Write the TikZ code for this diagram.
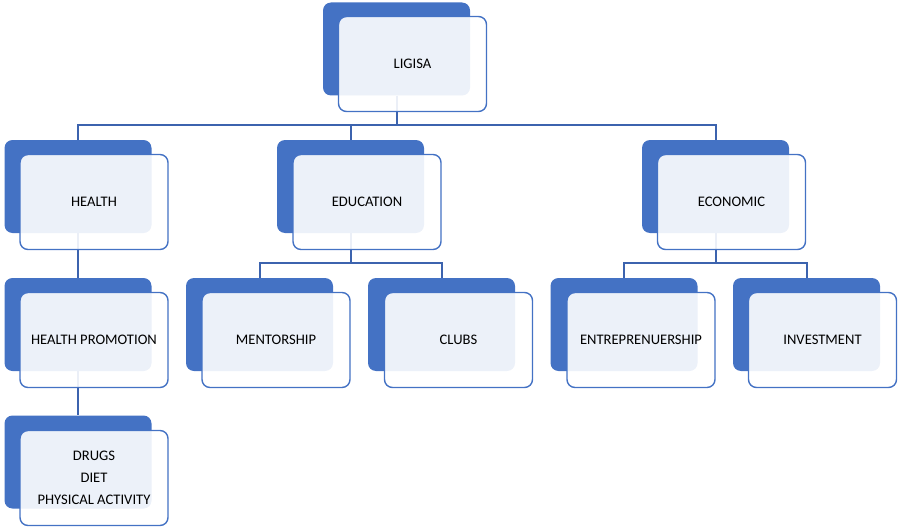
\documentclass[tikz,border=0pt]{standalone}
\usepackage{fontspec}
\setmainfont{Carlito}
\definecolor{obl}{HTML}{4472C4}
\definecolor{lnk}{HTML}{3C63AE}
\begin{document}
\begin{tikzpicture}[x=1pt,y=-1pt,
  back/.style={rounded corners=8pt,fill=obl,draw=none,minimum width=147pt,minimum height=93pt,inner sep=0pt},
  front/.style={rounded corners=8pt,draw=obl,line width=1.4pt,fill=white,fill opacity=0.9,text opacity=1,
    minimum width=148pt,minimum height=95pt,inner sep=0pt,align=center,
    font=\fontsize{14.6}{22}\selectfont},
  link/.style={draw=lnk,line width=2pt}]
\useasboundingbox (0,0) rectangle (900,527);
% back boxes
\node[back] (lB) at (396.5,49) {};
\node[back] (hB) at (78,186.5) {};
\node[back] (edB) at (350.5,186.5) {};
\node[back] (ecB) at (715.5,186.5) {};
\node[back] (hpB) at (78,324.5) {};
\node[back] (mB) at (259.5,324.5) {};
\node[back] (cB) at (441.5,324.5) {};
\node[back] (enB) at (624,324.5) {};
\node[back] (iB) at (806.5,324.5) {};
\node[back] (dB) at (78,462) {};
% connectors
\draw[link] (lB.south) -- ++(0,29.5) -| (hB.north);
\draw[link] (lB.south) -- ++(0,29.5) -| (edB.north);
\draw[link] (lB.south) -- ++(0,29.5) -| (ecB.north);
\draw[link] (hB.south) -- (hpB.north);
\draw[link] (hpB.south) -- (dB.north);
\draw[link] (edB.south) -- ++(0,30) -| (mB.north);
\draw[link] (edB.south) -- ++(0,30) -| (cB.north);
\draw[link] (ecB.south) -- ++(0,30) -| (enB.north);
\draw[link] (ecB.south) -- ++(0,30) -| (iB.north);
% front boxes
\node[front] (l) at (412.5,64) {LIGISA};
\node[front] (h) at (94,202) {HEALTH};
\node[front] (ed) at (367,202) {EDUCATION};
\node[front] (ec) at (731.5,202) {ECONOMIC};
\node[front] (hp) at (94,340) {HEALTH PROMOTION};
\node[front] (m) at (276,340) {MENTORSHIP};
\node[front] (c) at (458.5,340) {CLUBS};
\node[front] (en) at (641,340) {ENTREPRENUERSHIP};
\node[front] (i) at (822.5,340) {INVESTMENT};
\node[front] (d) at (94,478) {DRUGS\\DIET\\PHYSICAL ACTIVITY};
\end{tikzpicture}
\end{document}
